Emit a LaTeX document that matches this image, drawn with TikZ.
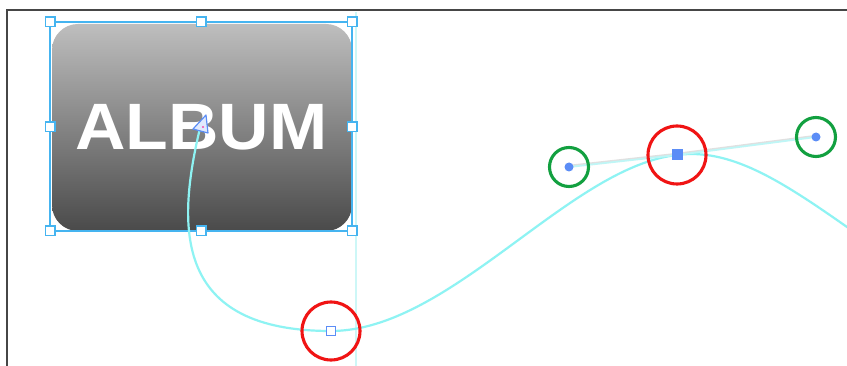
\documentclass[tikz,border=0pt]{standalone}
\usepackage{fontspec}
\newfontfamily\albumfont{Liberation Sans}
\definecolor{selblue}{HTML}{45B4F0}
\definecolor{ptblue}{HTML}{5B8DF6}
\definecolor{curvecyan}{HTML}{8EF3F3}
\definecolor{guidecyan}{HTML}{CDF7F7}
\definecolor{hlcyan}{HTML}{BFF6F6}
\definecolor{hlshadow}{HTML}{E0E0E0}
\definecolor{redc}{HTML}{F01414}
\definecolor{greenc}{HTML}{12A040}
\definecolor{albtop}{HTML}{BEBEBE}
\definecolor{albbot}{HTML}{4A4A4A}
\definecolor{framegray}{HTML}{464646}
\begin{document}
\begin{tikzpicture}[x=1pt,y=-1pt,
  frame/.style={draw=framegray,line width=2pt},
  guide/.style={draw=guidecyan,line width=2pt},
  handle/.style={rectangle,draw=selblue,fill=white,line width=1.5pt,minimum size=9.5pt,inner sep=0pt,outer sep=0pt},
  ring/.style={circle,fill=none,line width=3.1pt,inner sep=0pt},
  redring/.style={ring,draw=redc,minimum size=58pt},
  greenring/.style={ring,draw=greenc,minimum size=39pt},
  curve/.style={draw=curvecyan,line width=2.2pt},
  hline/.style={draw=hlcyan,line width=1.8pt},
  hshadow/.style={draw=hlshadow,line width=2.4pt},
  opensq/.style={rectangle,draw=ptblue,fill=white,line width=1.3pt,minimum size=9.5pt,inner sep=0pt},
  fillsq/.style={rectangle,fill=ptblue,minimum size=11pt,inner sep=0pt},
  dot/.style={circle,fill=ptblue,minimum size=9pt,inner sep=0pt}]
\useasboundingbox (0,0) rectangle (847,366);
\fill[white] (0,0) rectangle (847,366);
% frame
\draw[frame] (7,367) -- (7,10) -- (848,10);
% guide line
\draw[guide] (356,12) -- (356,367);
% album button
\shade[top color=albtop,bottom color=albbot,rounded corners=26pt] (52,24) rectangle (352,231);
\node[text=white,font=\albumfont\bfseries\fontsize{65.6}{65.6}\selectfont,xscale=1.065,anchor=base,inner sep=0pt] (album) at (201.5,150) {ALBUM};
% selection box
\draw[selblue,line width=1.4pt] (50,22) rectangle (352,231);
\node[handle] (s1) at (50,22) {};
\node[handle] (s2) at (201,22) {};
\node[handle] (s3) at (352,22) {};
\node[handle] (s4) at (50,127) {};
\node[handle] (s5) at (352,127) {};
\node[handle] (s6) at (50,231) {};
\node[handle] (s7) at (201,231) {};
\node[handle] (s8) at (352,231) {};
% anchor / handle coordinates
\coordinate (start) at (201,124);
\coordinate (p1) at (331,331);
\coordinate (p2) at (677,155);
\coordinate (h1) at (569,167);
\coordinate (h2) at (816,137);
% curve
\begin{scope}
\clip (0,0) rectangle (847,366);
\draw[curve] (start) .. controls (175,230) and (175,331) .. (p1)
  .. controls (450,331) and (h1) .. (p2)
  .. controls (730,148) and (780,180) .. (847,227)
  .. controls (852,230) .. (860,237);
\end{scope}
% handle lines
\draw[hshadow] ([yshift=1pt]h1) -- ([yshift=1pt]p2) -- ([yshift=1pt]h2);
\draw[hline] (h1) -- (p2) -- (h2);
% start triangle
\draw[ptblue,fill=ptblue!18,line width=1.2pt,line join=round] (206,115) -- (193,129) -- (208,133) -- cycle;
\fill[magenta!70] (203,127) circle (1.2pt);
% rings
\node[redring] (r1) at (p1) {};
\node[redring] (r2) at (p2) {};
\node[greenring] (g1) at (h1) {};
\node[greenring] (g2) at (h2) {};
% points
\node[opensq] (a1) at (p1) {};
\node[fillsq] (a2) at (p2) {};
\node[dot] (d1) at (h1) {};
\node[dot] (d2) at (h2) {};
\end{tikzpicture}
\end{document}
